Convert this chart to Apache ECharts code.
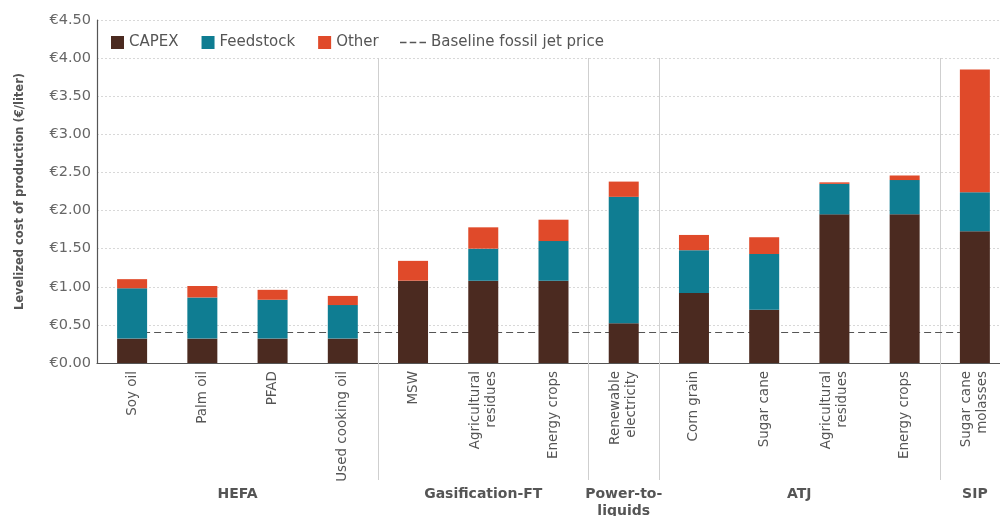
<!DOCTYPE html>
<html>
<head>
<meta charset="utf-8">
<script src="https://cdn.jsdelivr.net/npm/echarts@6/dist/echarts.min.js"></script>
<style>
html,body{margin:0;padding:0;background:#fff;}
#chart{width:1000px;height:516px;}
</style>
</head>
<body>
<div id="chart"></div>
<script>
const categories = ['Soy oil','Palm oil','PFAD','Used cooking oil','MSW','Agricultural\nresidues','Energy crops','Renewable\nelectricity','Corn grain','Sugar cane','Agricultural\nresidues','Energy crops','Sugar cane\nmolasses'];
const capex     = [0.32,0.32,0.32,0.32,1.08,1.08,1.08,0.52,0.92,0.70,1.95,1.95,1.73];
const feedstock = [0.66,0.54,0.51,0.44,0.00,0.42,0.52,1.66,0.56,0.73,0.40,0.45,0.51];
const other     = [0.12,0.15,0.13,0.12,0.26,0.28,0.28,0.20,0.20,0.22,0.02,0.06,1.61];
const baselinePrice = 0.40;
const baseline = categories.map(() => baselinePrice);
// group labels at category positions (value axis, half-steps)
const groups = [
  {name:'HEFA', center:2},
  {name:'Gasification-FT', center:5.5},
  {name:'Power-to-\nliquids', center:7.5},
  {name:'ATJ', center:10},
  {name:'SIP', center:12.5}
];
const separators = [4,7,8,12];

const FONT = 'DejaVu Sans';
const chart = echarts.init(document.getElementById('chart'));
const sepFn = (i) => separators.indexOf(i) >= 0;
const groupMap = {};
groups.forEach(g => { groupMap[Math.round(g.center*2)] = g.name; });

chart.setOption({
  animation:false,
  textStyle:{fontFamily:FONT},
  grid:{left:97, width:913, top:20, bottom:153, containLabel:false, outerBoundsMode:'none'},
  legend:[
    {
      left:106, top:30, itemWidth:13, itemHeight:13, itemGap:23,
      textStyle:{fontFamily:FONT, fontSize:15, color:'#555'},
      data:[
        {name:'CAPEX', icon:'rect'},
        {name:'Feedstock', icon:'rect'},
        {name:'Other', icon:'rect'}
      ]
    },
    {
      left:395, top:30, itemWidth:26, itemHeight:13, itemGap:0, symbolKeepAspect:true,
      textStyle:{fontFamily:FONT, fontSize:15, color:'#555'},
      data:[
        {name:'Baseline fossil jet price',
         icon:'path://M0,0h6v1.6h-6z M9,0h6v1.6h-6z M18,0h6v1.6h-6z',
         itemStyle:{color:'#555'},
         lineStyle:{width:0, opacity:0}}
      ]
    }
  ],
  xAxis:[
    {
      type:'category', data:categories, position:'bottom',
      axisLine:{lineStyle:{color:'#555', width:1.2}},
      axisTick:{show:true, interval:sepFn, length:117, lineStyle:{color:'#cfcfcf'}},
      axisLabel:{rotate:90, interval:0, fontFamily:FONT, fontSize:13.5, color:'#555', margin:8, lineHeight:16}
    },
    {
      type:'category', data:categories, position:'bottom', offset:0,
      axisLine:{show:false},
      axisTick:{show:true, inside:true, interval:sepFn, length:305, lineStyle:{color:'#cfcfcf'}},
      axisLabel:{show:false}
    },
    {
      type:'value', min:0, max:13, interval:0.5, position:'bottom', offset:0,
      axisLine:{show:false}, axisTick:{show:false}, splitLine:{show:false},
      axisLabel:{
        margin:123, fontFamily:FONT, fontSize:14, fontWeight:'bold', color:'#555', lineHeight:17,
        formatter:(v)=> groupMap[Math.round(v*2)] || ''
      }
    }
  ],
  yAxis:{
    type:'value', min:0, max:4.5, interval:0.5,
    name:'Levelized cost of production (€/liter)', nameLocation:'middle', nameGap:71,
    nameTextStyle:{fontFamily:FONT, fontSize:11.5, fontWeight:'bold', color:'#555'},
    axisLine:{show:true, lineStyle:{color:'#555', width:1.2}},
    axisTick:{show:false},
    axisLabel:{fontFamily:FONT, fontSize:14.5, color:'#666', margin:6, formatter:(v)=>'€'+v.toFixed(2)},
    splitLine:{lineStyle:{color:'#d8d8d8', type:[2,2]}}
  },
  series:[
    {name:'CAPEX', type:'bar', stack:'c', data:capex, barWidth:30, itemStyle:{color:'#4b2a20'}},
    {name:'Feedstock', type:'bar', stack:'c', data:feedstock, barWidth:30, itemStyle:{color:'#0f7d92'}},
    {name:'Other', type:'bar', stack:'c', data:other, barWidth:30, itemStyle:{color:'#e04a2a'}},
    {name:'Baseline fossil jet price', type:'line', data:baseline, symbol:'none', z:1,
     lineStyle:{color:'#555', width:1.2, type:[7,4]}, itemStyle:{color:'#555'}}
  ]
});
</script>
</body>
</html>
